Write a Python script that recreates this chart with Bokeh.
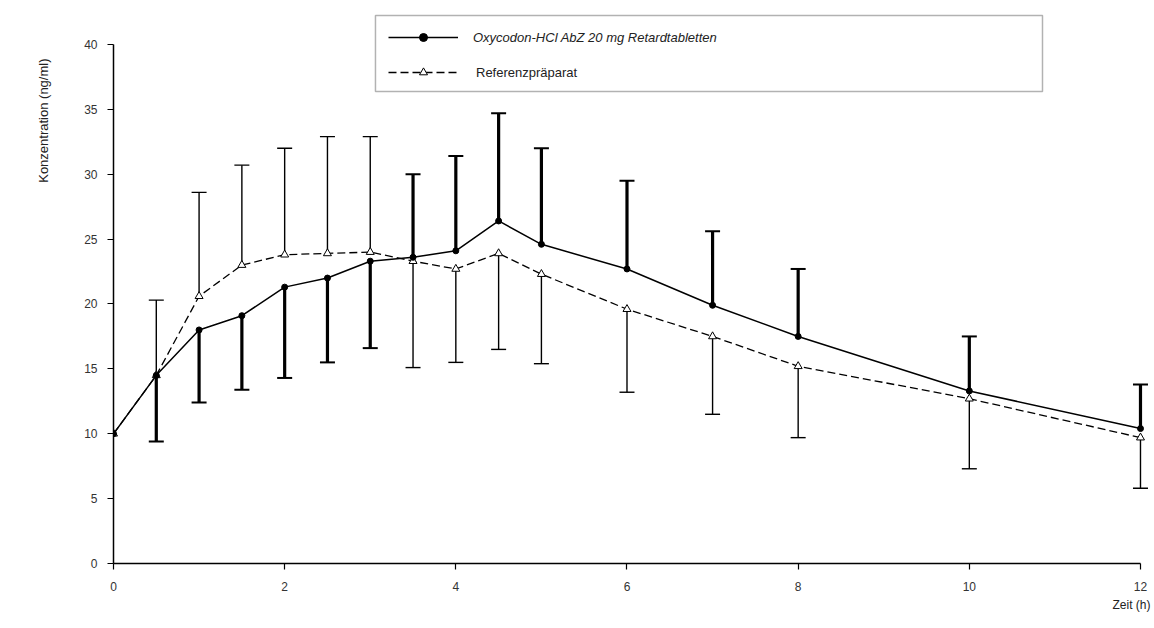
from bokeh.plotting import figure
from bokeh.models import Range1d, Legend, LegendItem, Title, BoxAnnotation, FixedTicker
from bokeh.embed import file_html
from bokeh.resources import INLINE

# ---- data ----
time = [0, 0.5, 1, 1.5, 2, 2.5, 3, 3.5, 4, 4.5, 5, 6, 7, 8, 10, 12]
test_mean = [10.0, 14.5, 18.0, 19.1, 21.3, 22.0, 23.3, 23.6, 24.1, 26.4, 24.6, 22.7, 19.9, 17.5, 13.3, 10.4]
test_bar_end = [10.0, 9.4, 12.4, 13.4, 14.3, 15.5, 16.6, 30.0, 31.4, 34.7, 32.0, 29.5, 25.6, 22.7, 17.5, 13.8]
ref_mean = [10.0, 14.5, 20.6, 23.0, 23.8, 23.9, 24.0, 23.3, 22.7, 23.9, 22.3, 19.6, 17.5, 15.2, 12.7, 9.7]
ref_bar_end = [10.0, 20.3, 28.6, 30.7, 32.0, 32.9, 32.9, 15.1, 15.5, 16.5, 15.4, 13.2, 11.5, 9.7, 7.3, 5.8]
x_ticks = [0, 2, 4, 6, 8, 10, 12]
y_ticks = [0, 5, 10, 15, 20, 25, 30, 35, 40]
test_label = "Oxycodon-HCl AbZ 20 mg Retardtabletten"
ref_label = "Referenzpräparat"
x_title = "Zeit (h)"
y_title = "Konzentration (ng/ml)"

FONT = "Liberation Sans"

p = figure(width=1154, height=628, output_backend="svg", toolbar_location=None,
           x_range=Range1d(0, 12.117), y_range=Range1d(0, 42.62),
           min_border_left=113, min_border_right=4, min_border_top=10, min_border_bottom=65)
p.outline_line_color = None
p.grid.visible = False
p.background_fill_color = "white"
p.border_fill_color = "white"

for ax, ticks, bnds in ((p.xaxis, x_ticks, (0, 12)), (p.yaxis, y_ticks, (0, 40))):
    ax.ticker = FixedTicker(ticks=ticks)
    ax.bounds = bnds
    ax.axis_line_color = "black"
    ax.axis_line_width = 1.5
    ax.major_tick_line_color = "black"
    ax.major_tick_line_width = 1.2
    ax.major_tick_in = 0
    ax.major_tick_out = 6
    ax.minor_tick_line_color = None
    ax.major_label_text_font = FONT
    ax.major_label_text_font_size = "12px"
    ax.major_label_text_color = "#333333"
p.xaxis.major_label_standoff = 12
p.yaxis.major_label_standoff = 10

# error bars (one-sided)
ti = [i for i in range(len(time)) if time[i] > 0]
bt = [time[i] for i in ti]
p.segment(x0=bt, y0=[test_mean[i] for i in ti], x1=bt, y1=[test_bar_end[i] for i in ti],
          line_color="black", line_width=3.2)
p.scatter(x=bt, y=[test_bar_end[i] for i in ti], marker="dash", size=15,
          line_color="black", line_width=2)
p.segment(x0=bt, y0=[ref_mean[i] for i in ti], x1=bt, y1=[ref_bar_end[i] for i in ti],
          line_color="black", line_width=1.4)
p.scatter(x=bt, y=[ref_bar_end[i] for i in ti], marker="dash", size=15,
          line_color="black", line_width=1.4)

# lines + markers
l_ref = p.line(time, ref_mean, line_color="black", line_width=1.3, line_dash="8 4")
m_ref = p.scatter(time, ref_mean, marker="triangle", size=8, fill_color="white",
                  line_color="black", line_width=1)
l_test = p.line(time, test_mean, line_color="black", line_width=1.5)
m_test = p.scatter(time, test_mean, marker="circle", size=6, fill_color="black",
                   line_color="black")

# legend box
p.add_layout(BoxAnnotation(left=3.061, right=10.855, top=42.23, bottom=36.38,
                           fill_alpha=0, line_color="black", line_width=1.5, level="overlay"))

leg1 = Legend(items=[LegendItem(label=test_label, renderers=[l_test, m_test])],
              location=(275, 516), padding=0, margin=0, border_line_alpha=0,
              background_fill_alpha=0, glyph_width=70, glyph_height=20, label_height=20,
              label_standoff=15, label_text_font=FONT, label_text_font_size="13px",
              label_text_font_style="italic", label_text_color="#222222")
leg2 = Legend(items=[LegendItem(label=ref_label, renderers=[l_ref, m_ref])],
              location=(275, 481), padding=0, margin=0, border_line_alpha=0,
              background_fill_alpha=0, glyph_width=70, glyph_height=20, label_height=20,
              label_standoff=18, label_text_font=FONT, label_text_font_size="13px",
              label_text_color="#222222")
p.add_layout(leg1)
p.add_layout(leg2)

# axis titles
p.add_layout(Title(text=y_title, align="right", offset=48, standoff=62,
                   text_font=FONT, text_font_size="13px", text_font_style="normal",
                   text_color="#222222"), "left")
p.add_layout(Title(text=x_title, align="right", standoff=5,
                   text_font=FONT, text_font_size="12px", text_font_style="normal",
                   text_color="#222222"), "below")

open("out.html", "w").write(file_html(p, INLINE))
